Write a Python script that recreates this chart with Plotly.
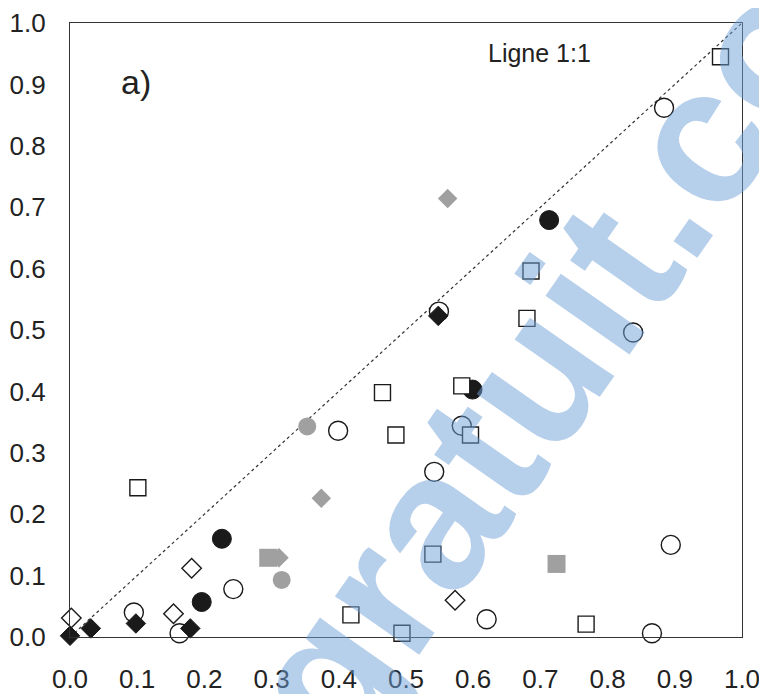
import plotly.graph_objects as go

# --- data ---
open_sq_x = [0.968, 0.686, 0.680, 0.465, 0.583, 0.485, 0.596, 0.101, 0.540, 0.418, 0.494, 0.768]
open_sq_y = [0.945, 0.596, 0.519, 0.398, 0.409, 0.329, 0.329, 0.243, 0.135, 0.036, 0.006, 0.021]

open_circ_x = [0.884, 0.838, 0.549, 0.399, 0.583, 0.542, 0.243, 0.095, 0.163, 0.620, 0.894, 0.866]
open_circ_y = [0.862, 0.496, 0.530, 0.336, 0.344, 0.269, 0.078, 0.040, 0.006, 0.029, 0.150, 0.006]

fill_circ_x = [0.713, 0.599, 0.226, 0.196]
fill_circ_y = [0.679, 0.403, 0.160, 0.057]

fill_diam_x = [0.548, 0.000, 0.031, 0.098, 0.179]
fill_diam_y = [0.523, 0.002, 0.014, 0.022, 0.014]

open_diam_x = [0.002, 0.154, 0.181, 0.573]
open_diam_y = [0.031, 0.038, 0.112, 0.060]

gray_diam_x = [0.562, 0.374, 0.311]
gray_diam_y = [0.714, 0.226, 0.129]

gray_circ_x = [0.353, 0.315]
gray_circ_y = [0.343, 0.093]

gray_sq_x = [0.724, 0.295]
gray_sq_y = [0.119, 0.129]

line_x = [0.0, 1.0]
line_y = [0.0, 1.0]

tick_vals = [0.0, 0.1, 0.2, 0.3, 0.4, 0.5, 0.6, 0.7, 0.8, 0.9, 1.0]
tick_text = ["0.0", "0.1", "0.2", "0.3", "0.4", "0.5", "0.6", "0.7", "0.8", "0.9", "1.0"]

BLACK = "#1a1a1a"
GRAY = "#a0a0a0"

fig = go.Figure()

fig.add_trace(go.Scatter(x=line_x, y=line_y, mode="lines",
                         line=dict(color="#333333", width=1.2, dash="dot"),
                         showlegend=False, hoverinfo="skip"))

def add(x, y, symbol, size, fill, lcolor, lwidth):
    fig.add_trace(go.Scatter(
        x=x, y=y, mode="markers", showlegend=False, cliponaxis=False,
        marker=dict(symbol=symbol, size=size, color=fill,
                    line=dict(color=lcolor, width=lwidth))))

add(open_diam_x, open_diam_y, "diamond", 15, "white", BLACK, 1.4)
add(open_circ_x, open_circ_y, "circle", 19, "white", BLACK, 1.4)
add(fill_circ_x, fill_circ_y, "circle", 19, BLACK, BLACK, 1)
add(open_sq_x, open_sq_y, "square", 16, "white", BLACK, 1.4)
add(fill_diam_x, fill_diam_y, "diamond", 15, BLACK, BLACK, 1)
add(gray_sq_x, gray_sq_y, "square", 18, GRAY, GRAY, 0)
add(gray_diam_x, gray_diam_y, "diamond", 15, GRAY, GRAY, 0)
add(gray_circ_x, gray_circ_y, "circle", 18, GRAY, GRAY, 0)

axis_common = dict(range=[0, 1], tickvals=tick_vals, ticktext=tick_text,
                   showgrid=False, zeroline=False, showline=True, automargin=False,
                   linecolor="#333333", linewidth=1.3, mirror=True, ticks="",
                   tickfont=dict(family="Liberation Sans, Arial", size=26, color="#222222"))

# page body has an 8px margin, so the figure is 8px smaller and margins shifted
fig.update_layout(
    width=759, height=686,
    margin=dict(l=62, r=25, t=15, b=57),
    paper_bgcolor="white", plot_bgcolor="white",
    xaxis=dict(**axis_common, ticklabelstandoff=19),
    yaxis=dict(**axis_common, ticklabelstandoff=18),
    annotations=[
        dict(x=0.698, y=0.951, xref="x", yref="y", text="Ligne 1:1", showarrow=False,
             xanchor="center", yanchor="middle",
             font=dict(family="Liberation Sans, Arial", size=25, color="#222222")),
        dict(x=0.098, y=0.904, xref="x", yref="y", text="a)", showarrow=False,
             xanchor="center", yanchor="middle",
             font=dict(family="Liberation Sans, Arial", size=34, color="#222222")),
        dict(x=0.703, y=0.448, xref="paper", yref="paper", text="<b>gratuit.co</b>",
             showarrow=False, textangle=-55, xanchor="center", yanchor="middle",
             font=dict(family="Liberation Sans, Arial", size=194,
                       color="rgba(110,160,215,0.5)")),
    ],
)

fig.write_html("out.html")
